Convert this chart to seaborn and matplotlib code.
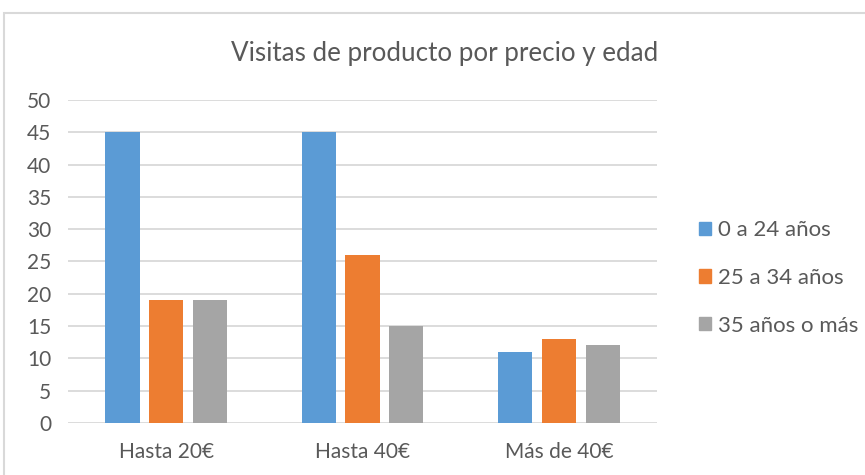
import pandas as pd
import matplotlib.pyplot as plt
import matplotlib.patches as mpatches
import seaborn as sns

categorias = ['Hasta 20€', 'Hasta 40€', 'Más de 40€']
edades = ['0 a 24 años', '25 a 34 años', '35 años o más']
v_0_24 = [45, 45, 11]
v_25_34 = [19, 26, 13]
v_35_mas = [19, 15, 12]
colores = ['#5B9BD5', '#ED7D31', '#A5A5A5']

df = pd.DataFrame({
    'precio': categorias * 3,
    'edad': [e for e in edades for _ in categorias],
    'visitas': v_0_24 + v_25_34 + v_35_mas,
})

sns.set_theme(style='white')
plt.rcParams['font.family'] = ['Lato', 'DejaVu Sans']
texto = '#595959'

fig = plt.figure(figsize=(8.65, 4.75), dpi=100)
ax = fig.add_axes([0.0786, 0.1095, 0.681, 0.68])

sns.barplot(data=df, x='precio', y='visitas', hue='edad', palette=colores,
            saturation=1, width=0.667, gap=0.22, linewidth=0,
            ax=ax, legend=False, zorder=3)

ax.set_ylim(0, 50)
ax.set_xlim(-0.5, 2.5)
ax.set_yticks(range(0, 51, 5))
ax.yaxis.grid(True, color='#d9d9d9', linewidth=1.3, zorder=0)
ax.set_axisbelow(True)
for s in ax.spines.values():
    s.set_visible(False)
ax.tick_params(axis='y', length=0, pad=12, labelsize=15, labelcolor=texto)
ax.tick_params(axis='x', length=0, pad=14, labelsize=15, labelcolor=texto)
ax.set_xlabel('')
ax.set_ylabel('')

fig.text(0.514, 0.888, 'Visitas de producto por precio y edad',
         ha='center', va='center', fontsize=18.7, color=texto)

handles = [mpatches.Patch(color=c, label=e) for c, e in zip(colores, edades)]
fig.legend(handles=handles, loc='center left', bbox_to_anchor=(0.785, 0.415),
           frameon=False, fontsize=16, labelcolor=texto, handlelength=0.55,
           handleheight=0.55, handletextpad=0.3, labelspacing=1.25)

fig.patches.append(mpatches.Rectangle((0.005, -0.01), 1.0, 0.983, transform=fig.transFigure,
                                      fill=False, edgecolor='#d9d9d9', linewidth=1.5))

fig.savefig('out.png', dpi=100)
